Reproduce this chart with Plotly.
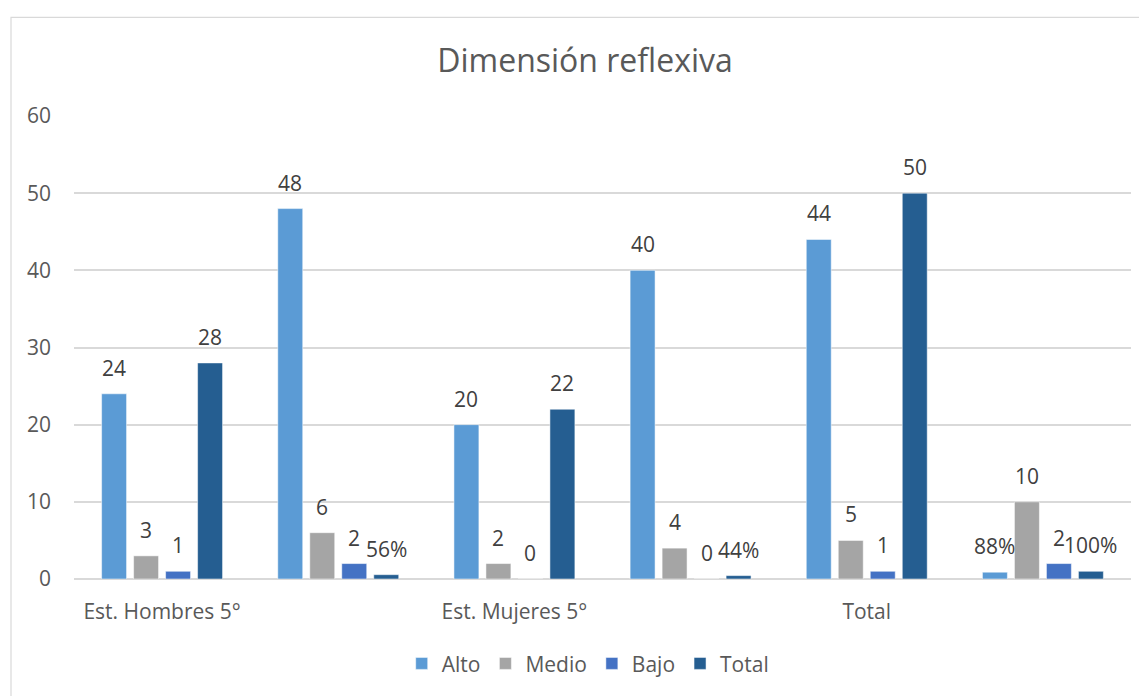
import plotly.graph_objects as go

# ---------------- data ----------------
categories = ["Est. Hombres 5°", "", "Est. Mujeres 5°", "", "Total", ""]
series_names = ["Alto", "Medio", "Bajo", "Total"]

alto = [24, 48, 20, 40, 44, 0.88]
medio = [3, 6, 2, 4, 5, 10]
bajo = [1, 2, 0, 0, 1, 2]
total = [28, 0.56, 22, 0.44, 50, 1.00]

alto_labels = ["24", "48", "20", "40", "44", "88%"]
medio_labels = ["3", "6", "2", "4", "5", "10"]
bajo_labels = ["1", "2", "0", "0", "1", "2"]
total_labels = ["28", "56%", "22", "44%", "50", "100%"]

y_ticks = [0, 10, 20, 30, 40, 50, 60]

# ---------------- style ----------------
colors = ["#5B9BD5", "#A5A5A5", "#4472C4", "#255E91"]
FONT = "Open Sans"
BARGAP = 0.2735
BARGROUPGAP = 0.22

# page body has an 8px margin: size the figure so it fits the window
W, H = 1139, 688
ML, MR, MT, MB = 66, 16, 108, 115
PW, PH = W - ML - MR, H - MT - MB

x_pos = list(range(len(categories)))
series_vals = [alto, medio, bajo, total]
series_labels = [alto_labels, medio_labels, bajo_labels, total_labels]

fig = go.Figure()
for name, vals, col in zip(series_names, series_vals, colors):
    fig.add_trace(go.Bar(
        name=name, x=x_pos, y=vals,
        marker=dict(color=col, line=dict(color="rgba(255,255,255,0.5)", width=1)),
        hoverinfo="skip",
    ))

# data labels, placed above each bar using the axis scale
n = len(series_names)
slot = (1 - BARGAP) / n
annotations = []
for s, (vals, labs) in enumerate(zip(series_vals, series_labels)):
    off = -(1 - BARGAP) / 2 + (s + 0.5) * slot
    for i, (v, t) in enumerate(zip(vals, labs)):
        annotations.append(dict(
            x=i + off, y=v, xref="x", yref="y", text=t, showarrow=False,
            yanchor="bottom", xanchor="center", yshift=10,
            font=dict(family=FONT, size=21, color="#404040"),
        ))

fig.update_layout(
    width=W, height=H,
    margin=dict(l=ML, r=MR, t=MT, b=MB),
    paper_bgcolor="white", plot_bgcolor="white",
    barmode="group", bargap=BARGAP, bargroupgap=BARGROUPGAP,
    title=dict(text="Dimensión reflexiva", x=577 / W, xref="container",
               y=1 - 53 / H, yref="container", yanchor="middle", xanchor="center",
               font=dict(family=FONT, size=32, color="#595959")),
    font=dict(family=FONT, color="#595959"),
    legend=dict(orientation="h", x=0.486, xanchor="center", y=-0.183, yanchor="middle",
                font=dict(family=FONT, size=21, color="#595959"),
                itemwidth=30, traceorder="normal"),
    annotations=annotations,
    shapes=[dict(type="rect", xref="paper", yref="paper",
                 x0=(3 - ML) / PW, x1=1.1, y0=-0.6, y1=(MT + PH - 9) / PH,
                 line=dict(color="#d9d9d9", width=1.2), fillcolor="rgba(0,0,0,0)",
                 layer="below")],
)

fig.update_xaxes(
    tickmode="array", tickvals=x_pos, ticktext=categories,
    range=[-0.5, len(categories) - 0.5],
    showgrid=False, zeroline=False, showline=False, ticks="",
    ticklabelstandoff=18,
    tickfont=dict(family=FONT, size=21, color="#595959"),
)
fig.update_yaxes(
    range=[0, 60], tickvals=y_ticks,
    showgrid=True, gridcolor="#d9d9d9", gridwidth=1.5,
    zeroline=True, zerolinecolor="#d9d9d9", zerolinewidth=1.5,
    showline=False, ticks="",
    ticklabelstandoff=22,
    tickfont=dict(family=FONT, size=21, color="#595959"),
)

fig.write_html("out.html")
